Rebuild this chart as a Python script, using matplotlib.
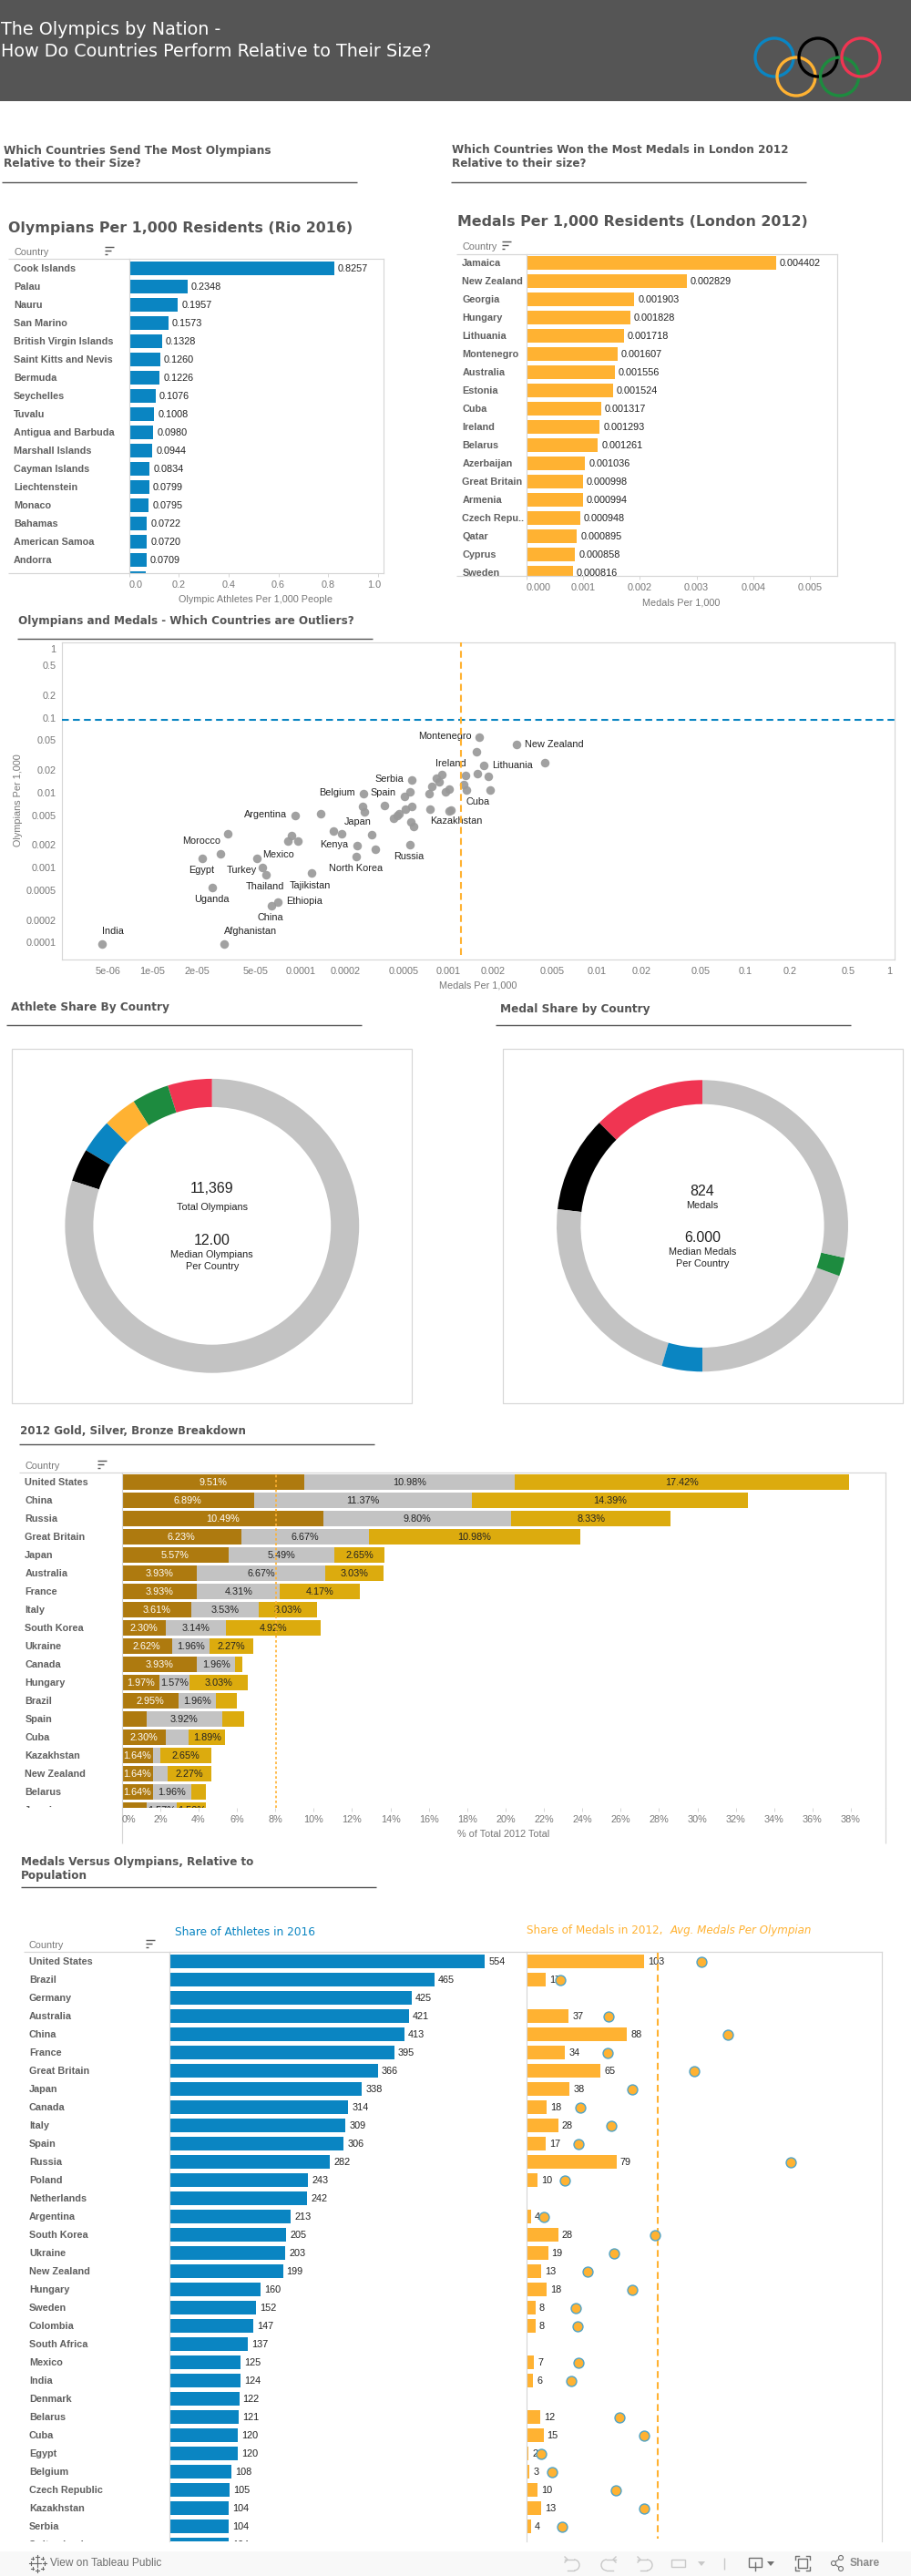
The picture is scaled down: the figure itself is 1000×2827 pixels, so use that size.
"""Olympics by nation dashboard, rebuilt with matplotlib."""

import matplotlib
matplotlib.use("Agg")
import matplotlib.pyplot as plt
from matplotlib.patches import Arc, Circle, Polygon, Rectangle
from matplotlib.transforms import ScaledTranslation

# Colors
BLUE = "#0A85C2"
ORANGE = "#FFB232"
RED = "#F03552"
GREEN = "#1D8B3F"
GREY = "#C3C3C3"
FRAME = "#D6D6D6"
HEAD = "#555555"
LABEL = "#5F5F5F"
TICK = "#777777"
INK = "#222222"

# Olympians per 1,000 residents
rio_names = ["Cook Islands", "Palau", "Nauru", "San Marino", "British Virgin Islands",
             "Saint Kitts and Nevis", "Bermuda", "Seychelles", "Tuvalu", "Antigua and Barbuda",
             "Marshall Islands", "Cayman Islands", "Liechtenstein", "Monaco", "Bahamas",
             "American Samoa", "Andorra", ""]
rio_values = [0.8257, 0.2348, 0.1957, 0.1573, 0.1328, 0.1260, 0.1226, 0.1076, 0.1008, 0.0980,
              0.0944, 0.0834, 0.0799, 0.0795, 0.0722, 0.0720, 0.0709, 0.068]

# Medals per 1,000 residents
london_names = ["Jamaica", "New Zealand", "Georgia", "Hungary", "Lithuania", "Montenegro",
                "Australia", "Estonia", "Cuba", "Ireland", "Belarus", "Azerbaijan",
                "Great Britain", "Armenia", "Czech Repu..", "Qatar", "Cyprus", "Sweden"]
london_values = [0.004402, 0.002829, 0.001903, 0.001828, 0.001718, 0.001607, 0.001556, 0.001524,
                 0.001317, 0.001293, 0.001261, 0.001036, 0.000998, 0.000994, 0.000948, 0.000895,
                 0.000858, 0.000816]

# Scatter
scatter_names = ["India", "Afghanistan", "Uganda", "Egypt", "Morocco", "", "Mexico", "Turkey",
                 "Thailand", "Tajikistan", "Ethiopia", "China", "Argentina", "", "", "", "", "", "",
                 "Japan", "Kenya", "", "North Korea", "Belgium", "", "", "", "Spain", "", "Serbia",
                 "", "", "", "", "", "", "", "Russia", "", "", "", "", "", "Ireland", "", "",
                 "Kazakhstan", "", "Montenegro", "New Zealand", "", "", "Lithuania", "", "", "",
                 "", "Cuba", ""]
scatter_medals = [4.59e-6, 3.06e-5, 2.55e-5, 2.18e-5, 2.89e-5, 3.24e-5, 5.09e-5, 5.55e-5,
                  5.86e-5, 1.19e-4, 7.05e-5, 6.38e-5, 9.23e-5, 8.71e-5, 8.24e-5, 9.61e-5, 1.37e-4,
                  1.67e-4, 1.90e-4, 3.03e-4, 2.41e-4, 3.21e-4, 2.38e-4, 2.67e-4, 2.63e-4, 2.70e-4,
                  3.69e-4, 5.05e-4, 5.48e-4, 5.65e-4, 5.65e-4, 5.12e-4, 4.63e-4, 4.50e-4, 4.26e-4,
                  5.57e-4, 5.81e-4, 5.48e-4, 7.50e-4, 7.38e-4, 7.71e-4, 8.28e-4, 8.67e-4, 9.06e-4,
                  9.53e-4, 1.01e-3, 1.01e-3, 1.04e-3, 1.61e-3, 2.88e-3, 1.54e-3, 4.46e-3, 1.73e-3,
                  1.30e-3, 1.56e-3, 1.85e-3, 1.26e-3, 1.32e-3, 1.90e-3]
scatter_olympians = [9.5e-5, 9.5e-5, 5.44e-4, 1.32e-3, 1.52e-3, 2.81e-3, 1.32e-3, 9.9e-4,
                     7.98e-4, 8.5e-4, 3.48e-4, 3.08e-4, 4.92e-3, 2.66e-3, 2.25e-3, 2.25e-3, 5.2e-3,
                     3.05e-3, 2.81e-3, 2.73e-3, 1.95e-3, 1.75e-3, 1.40e-3, 9.62e-3, 6.51e-3, 5.50e-3,
                     6.69e-3, 8.85e-3, 1.02e-2, 1.47e-2, 6.51e-3, 5.98e-3, 5.2e-3, 4.92e-3, 4.52e-3,
                     4.05e-3, 3.52e-3, 2.01e-3, 5.98e-3, 9.62e-3, 1.22e-2, 1.55e-2, 1.40e-2, 1.73e-2,
                     1.02e-2, 1.11e-2, 5.66e-3, 5.82e-3, 5.46e-2, 4.40e-2, 3.48e-2, 2.49e-2, 2.29e-2,
                     1.68e-2, 1.78e-2, 1.64e-2, 1.27e-2, 1.08e-2, 1.08e-2]
scatter_xticks = [5e-6, 1e-5, 2e-5, 5e-5, 1e-4, 2e-4, 5e-4, 1e-3, 2e-3, 5e-3, 0.01, 0.02, 0.05, 0.1, 0.2, 0.5, 1]
scatter_xlabels = ["5e-06", "1e-05", "2e-05", "5e-05", "0.0001", "0.0002", "0.0005", "0.001",
                   "0.002", "0.005", "0.01", "0.02", "0.05", "0.1", "0.2", "0.5", "1"]
scatter_yticks = [1, 0.5, 0.2, 0.1, 0.05, 0.02, 0.01, 0.005, 0.002, 0.001, 0.0005, 0.0002, 0.0001]
scatter_ylabels = ["1", "0.5", "0.2", "0.1", "0.05", "0.02", "0.01", "0.005", "0.002", "0.001",
                   "0.0005", "0.0002", "0.0001"]
OLYMPIAN_REF = 0.0927
MEDAL_REF = 0.00122

# where each scatter label sits relative to its point, in pixels
label_offsets = {
    "India": (11.7, -13.7), "Afghanistan": (28.7, -13.7), "Uganda": (-1, 13.7), "Egypt": (-1, 13.3),
    "Morocco": (-21, -13.7), "Mexico": (23.3, -3.7), "Turkey": (-23.3, 3), "Thailand": (-1, 13.3),
    "Tajikistan": (-2, 13.7), "Ethiopia": (28.7, -0.3), "China": (-1, 13.3), "Argentina": (-32.7, -0.7),
    "Japan": (-15.3, -13.7), "Kenya": (-25.7, -0.7), "North Korea": (-0.3, 13.3),
    "Belgium": (-29.3, -0.7), "Spain": (-23.3, -3.7), "Serbia": (-24.3, -0.7), "Russia": (-0.7, 13.3),
    "Montenegro": (-37.7, -0.7), "Ireland": (9.3, -12.7), "Kazakhstan": (7.3, 11.3), "Cuba": (13, 13.3),
    "New Zealand": (41.3, -0.3), "Lithuania": (31, -0.7),
}

# Donuts
athlete_values = [554, 465, 425, 421, 413, 9091]
athlete_colors = [RED, GREEN, ORANGE, BLUE, "black", GREY]
medal_share_values = [103, 88, 184, 37, 160, 17, 235]
medal_share_colors = [RED, "black", GREY, BLUE, GREY, GREEN, GREY]

# 2012 breakdown, % of total
stack_names = ["United States", "China", "Russia", "Great Britain", "Japan", "Australia", "France",
               "Italy", "South Korea", "Ukraine", "Canada", "Hungary", "Brazil", "Spain", "Cuba",
               "Kazakhstan", "New Zealand", "Belarus", "Jamaica"]
stack_first = [9.51, 6.89, 10.49, 6.23, 5.57, 3.93, 3.93, 3.61, 2.30, 2.62, 3.93, 1.97, 2.95, 1.30,
               2.30, 1.64, 1.64, 1.64, 1.30]
stack_second = [10.98, 11.37, 9.80, 6.67, 5.49, 6.67, 4.31, 3.53, 3.14, 1.96, 1.96, 1.57, 1.96, 3.92,
                1.19, 0.38, 0.76, 1.96, 1.57]
stack_third = [17.42, 14.39, 8.33, 10.98, 2.65, 3.03, 4.17, 3.03, 4.92, 2.27, 0.38, 3.03, 1.09, 1.14,
               1.89, 2.65, 2.27, 0.76, 1.52]
STACK_REF = 8.03

# Athletes, medals and medals per Olympian (None = no bar in the picture)
share_names = ["United States", "Brazil", "Germany", "Australia", "China", "France", "Great Britain",
               "Japan", "Canada", "Italy", "Spain", "Russia", "Poland", "Netherlands", "Argentina",
               "South Korea", "Ukraine", "New Zealand", "Hungary", "Sweden", "Colombia", "South Africa",
               "Mexico", "India", "Denmark", "Belarus", "Cuba", "Egypt", "Belgium", "Czech Republic",
               "Kazakhstan", "Serbia", "Switzerland"]
share_athletes = [554, 465, 425, 421, 413, 395, 366, 338, 314, 309, 306, 282, 243, 242, 213, 205, 203,
                  199, 160, 152, 147, 137, 125, 124, 122, 121, 120, 120, 108, 105, 104, 104, 104]
share_medals = [103, 17, None, 37, 88, 34, 65, 38, 18, 28, 17, 79, 10, None, 4, 28, 19, 13, 18, 8, 8,
                None, 7, 6, None, 12, 15, 2, 3, 10, 13, 4, None]
share_per_olympian = [0.1857, 0.0364, None, 0.0873, 0.214, 0.0864, 0.178, 0.1121, 0.0573, 0.0902, 0.0554,
                      0.2807, 0.0409, None, 0.0187, 0.1366, 0.0928, 0.0651, 0.1121, 0.0525, 0.0544, None,
                      0.0554, 0.0474, None, 0.0989, 0.125, 0.0158, 0.0274, 0.0951, 0.125, 0.038, None]
PER_OLYMPIAN_REF = 0.1395

SANS = "Liberation Sans"
HEAD_FONT = "DejaVu Sans"
W, H = 1000, 2827

fig = plt.figure(figsize=(W / 100, H / 100), dpi=100, facecolor="white")
bg = fig.add_axes([0, 0, 1, 1], zorder=0)
bg.set_xlim(0, W)
bg.set_ylim(H, 0)
bg.axis("off")
renderer = fig.canvas.get_renderer()


def px_axes(left, top, right, bottom):
    ax = fig.add_axes([left / W, 1 - bottom / H, (right - left) / W, (bottom - top) / H], zorder=2)
    ax.patch.set_alpha(0)
    return ax


def hline(x0, x1, y, color=FRAME, lw=0.85):
    bg.plot([x0, x1], [y, y], color=color, lw=lw, solid_capstyle="butt")


def vline(x, y0, y1, color=FRAME, lw=0.85):
    bg.plot([x, x], [y0, y1], color=color, lw=lw, solid_capstyle="butt")


def fit_text(x, y, s, width, **kwargs):
    # font size picked so the text spans the width measured on the reference
    t = bg.text(x, y, s, fontsize=10, va="center", **kwargs)
    size = 10 * width / t.get_window_extent(renderer).width
    t.set_fontsize(size)
    return size


def section_title(x, y, lines, width, x0=None, x1=None, rule_y=None):
    size = fit_text(x, y, lines[0], width, family=HEAD_FONT, weight="bold", color=HEAD)
    for i, line in enumerate(lines[1:], start=1):
        bg.text(x, y + i * 14.5, line, family=HEAD_FONT, weight="bold", fontsize=size, color=HEAD, va="center")
    if rule_y is not None:
        hline(x0, x1, rule_y, color=HEAD, lw=1.0)


def sort_icon(x, y):
    for i, length in enumerate([10, 6.7, 3.3]):
        hline(x, x + length, y + i * 4.3, color=HEAD, lw=1.0)


def shift_label(label, dx=0, dy=0):
    label.set_transform(label.get_transform() + ScaledTranslation(dx / 100, dy / 100, fig.dpi_scale_trans))


def row_axes(left, top, right, bottom, first_center, per_px):
    ax = px_axes(left, top, right, bottom)
    ax.set_xlim(0, (right - left) / per_px)
    ax.set_ylim((bottom - first_center) / 20, (top - first_center) / 20)
    ax.set_yticks([])
    for side in ["top", "left", "right", "bottom"]:
        ax.spines[side].set_color(FRAME)
        ax.spines[side].set_linewidth(0.85)
    ax.tick_params(axis="x", length=2.9, width=0.7, color=FRAME, pad=3, labelsize=7.8, labelcolor=TICK)
    return ax


def country_labels(names, x, first_center, top, bottom):
    clip = Rectangle((0, top), W, bottom - top, transform=bg.transData)
    for i, name in enumerate(names):
        t = bg.text(x, first_center + i * 20, name, family=SANS, weight="bold", fontsize=7.8,
                    color=LABEL, va="center", clip_on=True)
        t.set_clip_path(clip)


def bar_value(ax, text, x, row):
    ax.annotate(text, (x, row), xytext=(4, 0), textcoords="offset pixels", va="center", family=SANS,
                fontsize=7.8, color=INK, annotation_clip=False, clip_on=True, zorder=4)


# header
bg.add_patch(Rectangle((0, 0), W, 111, color=HEAD, lw=0))
head_size = fit_text(1, 56, "How Do Countries Perform Relative to Their Size?", 471, family=HEAD_FONT, color="white")
bg.text(1, 33, "The Olympics by Nation -", family=HEAD_FONT, fontsize=head_size, color="white", va="center")
for cx, cy, ring in [(850, 63, BLUE), (874, 84, ORANGE), (898, 63, "black"), (921.6, 84, GREEN), (945, 63, RED)]:
    bg.add_patch(Circle((cx, cy), 21, fill=False, edgecolor=ring, lw=2.4))

section_title(4.5, 165, ["Which Countries Send The Most Olympians", "Relative to their Size?"], 292.7,
              x0=2, x1=392, rule_y=200)
section_title(496, 165, ["Which Countries Won the Most Medals in London 2012", "Relative to their size?"], 370,
              x0=495, x1=885, rule_y=200)
section_title(9.3, 250, ["Olympians Per 1,000 Residents (Rio 2016)"], 379)
section_title(501.7, 244, ["Medals Per 1,000 Residents (London 2012)"], 386)

# Rio bars
ax = row_axes(141.7, 284.3, 420.7, 629.3, 294.5, 273)
ax.barh(range(len(rio_values)), rio_values, height=0.75, color=BLUE)
for i, v in enumerate(rio_values):
    bar_value(ax, f"{v:.4f}", v, i)
ax.set_xticks([0, 0.2, 0.4, 0.6, 0.8, 1.0], ["0.0", "0.2", "0.4", "0.6", "0.8", "1.0"], family=SANS)
ax.get_xticklabels()[0].set_ha("left")
shift_label(ax.get_xticklabels()[-1], dx=-3.5)
hline(9, 141.7, 284.3)
hline(9, 141.7, 629.3)
country_labels(rio_names, 15, 294.5, 284.3, 629.3)
bg.text(15, 277, "Country", family=SANS, fontsize=7.8, color=TICK, va="center")
sort_icon(115, 270.5)
bg.text(280, 658, "Olympic Athletes Per 1,000 People", family=SANS, fontsize=7.8, color=TICK, ha="center", va="center")

# London bars
ax = row_axes(577.7, 278.7, 919.3, 632.3, 288.5, 62300)
ax.barh(range(len(london_values)), london_values, height=0.75, color=ORANGE)
for i, v in enumerate(london_values):
    bar_value(ax, f"{v:.6f}", v, i)
ax.set_xticks([0, 0.001, 0.002, 0.003, 0.004, 0.005],
              ["0.000", "0.001", "0.002", "0.003", "0.004", "0.005"], family=SANS)
ax.get_xticklabels()[0].set_ha("left")
hline(501, 577.7, 278.7)
hline(501, 577.7, 632.3)
country_labels(london_names, 507.3, 288.5, 278.7, 632.3)
bg.text(507, 271, "Country", family=SANS, fontsize=7.8, color=TICK, va="center")
sort_icon(551, 264.5)
bg.text(747.7, 661, "Medals Per 1,000", family=SANS, fontsize=7.8, color=TICK, ha="center", va="center")

# Scatter
section_title(20, 682, ["Olympians and Medals - Which Countries are Outliers?"], 369, x0=19, x1=409, rule_y=701.3)
ax = px_axes(68.3, 705.3, 982.3, 1053.3)
ax.set_xscale("log")
ax.set_yscale("log")
ax.set_xlim(10 ** -5.607, 10 ** 0.011)
ax.set_ylim(10 ** -4.231, 1.0)
ax.scatter(scatter_medals, scatter_olympians, s=47, color="#999999", alpha=0.92, linewidths=0, zorder=3)
ax.axhline(OLYMPIAN_REF, color=BLUE, lw=1.5, ls=(0, (3.6, 2.2)), zorder=5)
ax.plot([MEDAL_REF, MEDAL_REF], [10 ** -4.17, 1.0], color=ORANGE, lw=1.5, ls=(0, (3.6, 2.2)), zorder=5)
for name, mx, my in zip(scatter_names, scatter_medals, scatter_olympians):
    if name:
        dx, dy = label_offsets[name]
        ax.annotate(name, (mx, my), xytext=(dx, -dy), textcoords="offset pixels", ha="center", va="center",
                    family=SANS, fontsize=7.8, color=INK, zorder=4)
ax.set_xticks(scatter_xticks, scatter_xlabels, family=SANS)
ax.set_yticks(scatter_yticks, scatter_ylabels, family=SANS)
ax.minorticks_off()
ax.tick_params(axis="both", length=0, labelsize=7.8, labelcolor=TICK)
ax.tick_params(axis="x", pad=5.8)
ax.tick_params(axis="y", pad=5)
shift_label(ax.get_yticklabels()[0], dy=-7)
shift_label(ax.get_xticklabels()[-1], dx=-4)
for spine in ax.spines.values():
    spine.set_color(FRAME)
    spine.set_linewidth(0.85)
bg.text(20, 878, "Olympians Per 1,000", family=SANS, fontsize=7.8, color=TICK, rotation=90, ha="center", va="center")
bg.text(524.7, 1082, "Medals Per 1,000", family=SANS, fontsize=7.8, color=TICK, ha="center", va="center")

# Donuts
section_title(12, 1106, ["Athlete Share By Country"], 173.5, x0=7, x1=397, rule_y=1125)
section_title(549, 1107, ["Medal Share by Country"], 164.6, x0=544, x1=934, rule_y=1125)
for x0, x1 in [(13.4, 452), (552, 991)]:
    bg.add_patch(Rectangle((x0, 1151.3), x1 - x0, 389, fill=False, edgecolor=FRAME, lw=0.85))


def donut(cx, cy, r_out, r_in, values, colors):
    ax = px_axes(cx - r_out - 1, cy - r_out - 1, cx + r_out + 1, cy + r_out + 1)
    ax.pie(values, colors=colors, startangle=90, counterclock=True,
           wedgeprops={"width": (r_out - r_in) / r_out, "linewidth": 0})
    lim = (r_out + 1) / r_out
    ax.set_xlim(-lim, lim)
    ax.set_ylim(-lim, lim)


donut(232.8, 1345.3, 161.4, 130.4, athlete_values, athlete_colors)
donut(771, 1345.3, 160, 133.6, medal_share_values, medal_share_colors)
center_texts = [(232.8, 1304.7, "11,369", 11.5), (232.8, 1325, "Total Olympians", 7.8), (232.8, 1361.7, "12.00", 11.5),
                (232.8, 1377, "Median Olympians", 7.8), (232.8, 1390, "Per Country", 7.8),
                (771, 1307.7, "824", 11.5), (771, 1323, "Medals", 7.8), (771, 1358.7, "6.000", 11.5),
                (771, 1374, "Median Medals", 7.8), (771, 1387, "Per Country", 7.8)]
for x, y, s, size in center_texts:
    bg.text(x, y, s, family=SANS, fontsize=size, color=INK, ha="center", va="center", zorder=5)

# Stacked breakdown
section_title(21.7, 1571, ["2012 Gold, Silver, Bronze Breakdown"], 247.6, x0=21, x1=411, rule_y=1585)
ax = row_axes(133.7, 1616.3, 972.3, 1983.7, 1626.5, 21.06)
ax.spines["bottom"].set_visible(False)
rows = range(len(stack_names))
lefts_second = [a for a in stack_first]
lefts_third = [a + b for a, b in zip(stack_first, stack_second)]
ax.barh(rows, stack_first, height=0.85, color="#AE7A0F")
ax.barh(rows, stack_second, left=lefts_second, height=0.85, color=GREY)
ax.barh(rows, stack_third, left=lefts_third, height=0.85, color="#DCAB0E")
for i in rows:
    parts = [(stack_first[i], 0, "white"), (stack_second[i], lefts_second[i], INK), (stack_third[i], lefts_third[i], INK)]
    for v, start, color in parts:
        if v >= 1.5:
            ax.text(start + v / 2, i, f"{v:.2f}%", ha="center", va="center", family=SANS, fontsize=7.8,
                    color=color, clip_on=True, zorder=4)
ax.axvline(STACK_REF, color=ORANGE, lw=1.2, ls=(0, (1.6, 1.6)), zorder=5)
ticks = list(range(0, 40, 2))
ax.set_xticks(ticks, [f"{t}%" for t in ticks], family=SANS)
ax.get_xticklabels()[0].set_ha("left")
hline(21, 133.7, 1616.3)
vline(133.7, 1983.7, 2023)
vline(972.3, 1983.7, 2023)
country_labels(stack_names, 27.3, 1626.5, 1616.3, 1983.7)
bg.text(27, 1609, "Country", family=SANS, fontsize=7.8, color=TICK, va="center")
sort_icon(107, 1602.5)
bg.text(552.3, 2013, "% of Total 2012 Total", family=SANS, fontsize=7.8, color=TICK, ha="center", va="center")

# Medals versus Olympians
section_title(23.2, 2044, ["Medals Versus Olympians, Relative to", "Population"], 254.7, x0=23, x1=413, rule_y=2071.3)
fit_text(192, 2121, "Share of Athletes in 2016", 153.2, family=HEAD_FONT, color=BLUE)
fit_text(578.3, 2118.3, "Share of Medals in 2012,", 149, family=HEAD_FONT, color=ORANGE)
fit_text(736, 2118.3, "Avg. Medals Per Olympian", 155.3, family=HEAD_FONT, style="italic", color=ORANGE)

ax = row_axes(186.4, 2142.3, 577.7, 2789, 2152.5, 0.624)
ax.set_xticks([])
ax.spines["bottom"].set_visible(False)
ax.spines["right"].set_visible(False)
ax.barh(range(len(share_athletes)), share_athletes, height=0.75, color=BLUE)
for i, v in enumerate(share_athletes):
    bar_value(ax, str(v), v, i)

ax = row_axes(577.7, 2142.3, 968.3, 2789, 2152.5, 1.255)
ax.set_xticks([])
ax.spines["bottom"].set_visible(False)
medal_rows = [i for i, v in enumerate(share_medals) if v is not None]
medal_vals = [share_medals[i] for i in medal_rows]
ax.barh(medal_rows, medal_vals, height=0.75, color=ORANGE)
for i, v in zip(medal_rows, medal_vals):
    bar_value(ax, str(v), v, i)
dots = ax.twiny()
dots.set_xlim(0, (968.3 - 577.7) / 1034)
dots.set_xticks([])
dots.patch.set_alpha(0)
for spine in dots.spines.values():
    spine.set_visible(False)
dots.plot([PER_OLYMPIAN_REF, PER_OLYMPIAN_REF], [-0.5, 31.66], color=ORANGE, lw=1.5, ls=(0, (3.6, 2.2)), zorder=3)
dots.scatter([share_per_olympian[i] for i in medal_rows], medal_rows, s=62, color=ORANGE,
             edgecolor="#4FA3C7", linewidths=1.0, zorder=5)
hline(26, 186.4, 2142.3)
country_labels(share_names, 32, 2152.5, 2142.3, 2789)
bg.text(32, 2135, "Country", family=SANS, fontsize=7.8, color=TICK, va="center")
sort_icon(160, 2128.5)

# Footer toolbar
bg.add_patch(Rectangle((0, 2800), W, 27, color="#F8F8F8", lw=0, zorder=3))
bar_zorder = 4
footer = bg.text(55, 2813.3, "View on Tableau Public", family=SANS, fontsize=8.6, color="#6E6E6E", va="center", zorder=bar_zorder)
for cx, cy, arm in [(41, 2813, 4), (41, 2805.5, 2), (41, 2820.5, 2), (33.5, 2813, 2), (48.5, 2813, 2),
                    (35.5, 2807.5, 1.5), (46.5, 2807.5, 1.5), (35.5, 2818.5, 1.5), (46.5, 2818.5, 1.5)]:
    bg.plot([cx - arm, cx + arm], [cy, cy], color="#666666", lw=0.8, zorder=bar_zorder)
    bg.plot([cx, cx], [cy - arm, cy + arm], color="#666666", lw=0.8, zorder=bar_zorder)

ICON = "#C8C8C8"
DARK = "#707070"
for x, flip in [(628, 1), (668, -1), (708, 1)]:
    bg.add_patch(Arc((x + 2 * flip, 2815), 12, 12, theta1=-90 if flip > 0 else 90, theta2=90 if flip > 0 else 270,
                     color=ICON, lw=1.0, zorder=bar_zorder))
    bg.plot([x - 8 * flip, x + 2 * flip], [2809, 2809], color=ICON, lw=1.0, zorder=bar_zorder)
    bg.plot([x - 5 * flip, x + 2 * flip], [2821, 2821], color=ICON, lw=1.0, zorder=bar_zorder)
    bg.plot([x - 8 * flip, x - 5 * flip, x - 8 * flip], [2806, 2809, 2812], color=ICON, lw=1.0, zorder=bar_zorder)
bg.add_patch(Rectangle((737, 2809), 15, 8, fill=False, edgecolor=ICON, lw=1.0, zorder=bar_zorder))
bg.add_patch(Polygon([(766, 2811), (774, 2811), (770, 2816)], color=ICON, lw=0, zorder=bar_zorder))
vline(795, 2807, 2820, color=ICON, lw=1.0)
bg.lines[-1].set_zorder(bar_zorder)
bg.add_patch(Rectangle((822, 2807), 14, 10, fill=False, edgecolor=DARK, lw=1.0, zorder=bar_zorder))
bg.plot([829, 829], [2812, 2821], color=DARK, lw=1.0, zorder=bar_zorder)
bg.add_patch(Polygon([(842, 2811), (850, 2811), (846, 2816)], color=DARK, lw=0, zorder=bar_zorder))
bg.add_patch(Rectangle((876, 2808), 10, 10, fill=False, edgecolor=DARK, lw=1.0, zorder=bar_zorder))
for sx, sy in [(873, 2805), (889, 2805), (873, 2821), (889, 2821)]:
    ix = 4 if sx < 880 else -4
    iy = 4 if sy < 2813 else -4
    bg.plot([sx + ix, sx, sx], [sy, sy, sy + iy], color=DARK, lw=1.0, zorder=bar_zorder)
bg.plot([923, 915, 923], [2807, 2813, 2819], color=DARK, lw=0.8, zorder=bar_zorder)
for cx, cy in [(923, 2807), (915, 2813), (923, 2819)]:
    bg.add_patch(Circle((cx, cy), 2.5, facecolor="#F8F8F8", edgecolor=DARK, lw=0.8, zorder=bar_zorder + 1))
bg.text(949, 2813.3, "Share", family=SANS, weight="bold", fontsize=8.6, color="#8A8A8A", ha="center", va="center", zorder=bar_zorder)

fig.savefig("out.png", dpi=100, facecolor="white")
